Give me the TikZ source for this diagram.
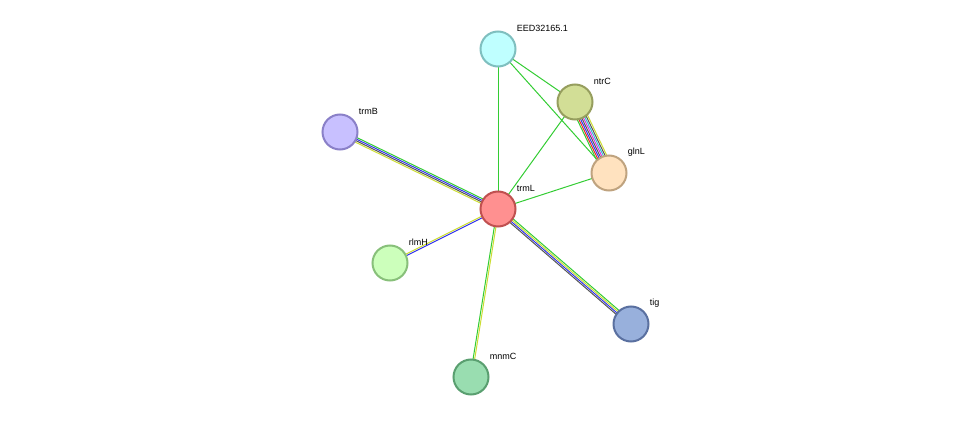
\documentclass[tikz,border=0pt]{standalone}
\usepackage{fontspec}
\setmainfont{Liberation Sans}
\usetikzlibrary{calc}
\definecolor{eg}{HTML}{33CC33}
\definecolor{ey}{HTML}{CCDD33}
\definecolor{eb}{HTML}{3333EE}
\definecolor{ek}{HTML}{555555}
\definecolor{er}{HTML}{EE2222}
\definecolor{em}{HTML}{DD33DD}
\definecolor{ec}{HTML}{33BBDD}
\newcommand{\medge}[4]{% from, to, count, colors
  \foreach \cc [count=\ii] in {#4}{
    \pgfmathsetmacro{\off}{(\ii-(#3+1)/2)*1.6}
    \draw[\cc, line width=1pt] ($(#1)!\off pt!90:(#2)$) -- ($(#2)!\off pt!-90:(#1)$);
  }}
\begin{document}
\begin{tikzpicture}[x=1pt,y=-1pt,
  prot/.style={circle, minimum size=35pt, inner sep=0pt, line width=2pt},
  lab/.style={anchor=west, font=\fontsize{9}{10}\selectfont, inner sep=0pt}]
\useasboundingbox (0,0) rectangle (975,422);
\coordinate (EED) at (498,49);
\coordinate (ntrC) at (575,102);
\coordinate (glnL) at (609,173);
\coordinate (trmB) at (340,132);
\coordinate (trmL) at (498,209);
\coordinate (rlmH) at (390,263);
\coordinate (tig) at (631,324);
\coordinate (mnmC) at (471,377);
\medge{trmL}{EED}{1}{eg}
\medge{trmL}{ntrC}{1}{eg}
\medge{trmL}{glnL}{1}{eg}
\medge{EED}{ntrC}{1}{eg}
\medge{EED}{glnL}{1}{eg}
\medge{ntrC}{glnL}{8}{eg,er,eb,ek,em,ec,ek,ey}
\medge{trmB}{trmL}{4}{ey,ek,eb,eg}
\medge{trmL}{tig}{4}{ek,eb,ey,eg}
\medge{rlmH}{trmL}{2}{eb,ey}
\medge{trmL}{mnmC}{2}{eg,ey}
\foreach \n/\f/\d in {EED/BFFFFF/7FBFBF, ntrC/D2DE96/969E5E, glnL/FFE2BF/BFA37F,
  trmB/C8C0FF/8A80C8, trmL/FF9090/C05050, rlmH/CCFFBB/88C07A,
  tig/98B0DC/5A70A0, mnmC/99DDB0/5A9F70}{
  \definecolor{ff}{HTML}{\f}\definecolor{dd}{HTML}{\d}
  \node[prot, fill=ff, draw=dd] (\n-n) at (\n) {};
  \node[lab] (\n-l) at ($(\n)+(18,-21)$) {};
}
\node[lab] at (EED-l) {EED32165.1};
\node[lab] at (ntrC-l) {ntrC};
\node[lab] at (glnL-l) {glnL};
\node[lab] at (trmB-l) {trmB};
\node[lab] at (trmL-l) {trmL};
\node[lab] at (rlmH-l) {rlmH};
\node[lab] at (tig-l) {tig};
\node[lab] at (mnmC-l) {mnmC};
\end{tikzpicture}
\end{document}
